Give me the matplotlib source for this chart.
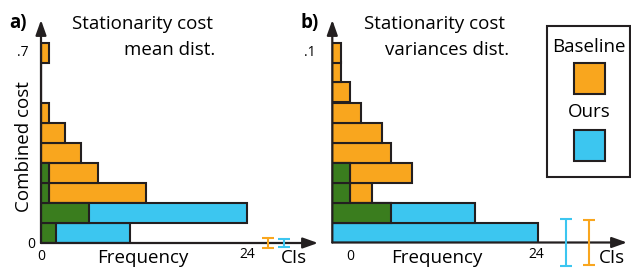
import numpy as np
import matplotlib
matplotlib.use('Agg')
import matplotlib.pyplot as plt
from matplotlib.patches import Rectangle

plt.rcParams['font.family'] = ['Open Sans', 'DejaVu Sans']

# histogram counts per cost bin (bottom bin first)
base_a = [1.8, 5.6, 12.2, 6.6, 4.7, 2.8, 0.9, 0, 0, 0.9]
ours_a = [10.4, 24, 0.9, 0.9, 0, 0, 0, 0, 0, 0]
base_b = [0, 6.9, 4.6, 9.3, 6.9, 5.8, 3.4, 2.1, 1.0, 1.0]
ours_b = [24, 16.7, 2.1, 2.1, 0, 0, 0, 0, 0, 0]

cost_max_a = 0.7
cost_max_b = 0.1
n_bins = 10

# confidence intervals: (x position in frequency units, half width in cost units)
ci_a = {'base': (26.45, 0.0175), 'ours': (28.4, 0.014)}
ci_b = {'base': (30.0, 0.0111), 'ours': (27.3, 0.0119)}

ORANGE = '#F9A61E'
BLUE = '#3CC6F0'
GREEN = '#3A7D1E'
EDGE = '#231F20'

W, H = 631, 273
fig = plt.figure(figsize=(W / 100, H / 100), dpi=100)

PX_PER_UNIT = 8.57
PX_PER_BIN = 20


def px(x, y):
    return x / W, 1 - y / H


def make_panel(x0, y0, x_tip, y_tip, cost_max, base, ours, ci):
    w_px = x_tip - x0
    h_px = y0 - y_tip
    ax = fig.add_axes([x0 / W, (H - y0) / H, w_px / W, h_px / H])
    bin_h = cost_max / n_bins
    ax.set_xlim(0, w_px / PX_PER_UNIT)
    ax.set_ylim(0, h_px / PX_PER_BIN * bin_h)
    ax.axis('off')

    edges = np.arange(n_bins) * bin_h
    base = np.array(base)
    ours = np.array(ours)
    ax.barh(edges, base, height=bin_h, align='edge', color=ORANGE,
            edgecolor=EDGE, lw=1.5, zorder=2)
    ax.barh(edges, ours, height=bin_h, align='edge', color=BLUE,
            edgecolor=EDGE, lw=1.5, zorder=2)
    both = np.minimum(base, ours)
    m = both > 0
    ax.barh(edges[m], both[m], height=bin_h, align='edge', color=GREEN,
            edgecolor=EDGE, lw=1.5, zorder=3)

    # axis arrows
    style = '-|>,head_length=0.9,head_width=0.32'
    for tip in [(1, 0), (0, 1)]:
        ax.annotate('', xy=tip, xytext=(0, 0), xycoords='axes fraction',
                    arrowprops=dict(arrowstyle=style, lw=1.6, color=EDGE,
                                    shrinkA=0, shrinkB=0), zorder=4)

    for key, col in [('base', ORANGE), ('ours', BLUE)]:
        xc, half = ci[key]
        ax.errorbar([xc], [0], yerr=[half], color=col, lw=1.5, capsize=4.5,
                    capthick=1.5, clip_on=False, zorder=5)
    return ax


ax_a = make_panel(41, 243, 318, 20, cost_max_a, base_a, ours_a, ci_a)
ax_b = make_panel(332.3, 242.5, 627, 20, cost_max_b, base_b, ours_b, ci_b)

big = 13.5
small = 10

# panel a texts
fig.text(*px(18, 23), 'a)', fontsize=big, fontweight='bold', ha='center', va='center')
fig.text(*px(213, 24), 'Stationarity cost', fontsize=big, ha='right', va='center')
fig.text(*px(215, 50), 'mean dist.', fontsize=big, ha='right', va='center')
fig.text(*px(24, 147), 'Combined cost', fontsize=big, rotation=90, ha='center', va='center')
fig.text(*px(23, 52), '.7', fontsize=small, ha='center', va='center')
fig.text(*px(31, 244), '0', fontsize=small, ha='center', va='center')
fig.text(*px(41, 257), '0', fontsize=small, ha='center', va='center')
fig.text(*px(143, 258), 'Frequency', fontsize=big, ha='center', va='center')
fig.text(*px(247, 255), '24', fontsize=small, ha='center', va='center')
fig.text(*px(294, 258), 'CIs', fontsize=big, ha='center', va='center')

# panel b texts
fig.text(*px(310, 23), 'b)', fontsize=big, fontweight='bold', ha='center', va='center')
fig.text(*px(505, 24), 'Stationarity cost', fontsize=big, ha='right', va='center')
fig.text(*px(509, 50), 'variances dist.', fontsize=big, ha='right', va='center')
fig.text(*px(310, 52), '.1', fontsize=small, ha='center', va='center')
fig.text(*px(350, 257), '0', fontsize=small, ha='center', va='center')
fig.text(*px(437, 258), 'Frequency', fontsize=big, ha='center', va='center')
fig.text(*px(536, 255), '24', fontsize=small, ha='center', va='center')
fig.text(*px(612, 258), 'CIs', fontsize=big, ha='center', va='center')

# legend box
x, y = px(547.3, 177.3)
fig.patches.append(Rectangle((x, y), (630 - 547.3) / W, (177.3 - 26) / H,
                             transform=fig.transFigure, fill=False,
                             edgecolor=EDGE, lw=1.5))
fig.text(*px(589.3, 47), 'Baseline', fontsize=big, ha='center', va='center')
fig.text(*px(589.3, 112), 'Ours', fontsize=big, ha='center', va='center')
for col, top in [(ORANGE, 63.3), (BLUE, 130)]:
    x, y = px(574.3, top + 30.7)
    fig.patches.append(Rectangle((x, y), 30.7 / W, 30.7 / H,
                                 transform=fig.transFigure, facecolor=col,
                                 edgecolor=EDGE, lw=1.5))

fig.savefig('out.png', dpi=100)
